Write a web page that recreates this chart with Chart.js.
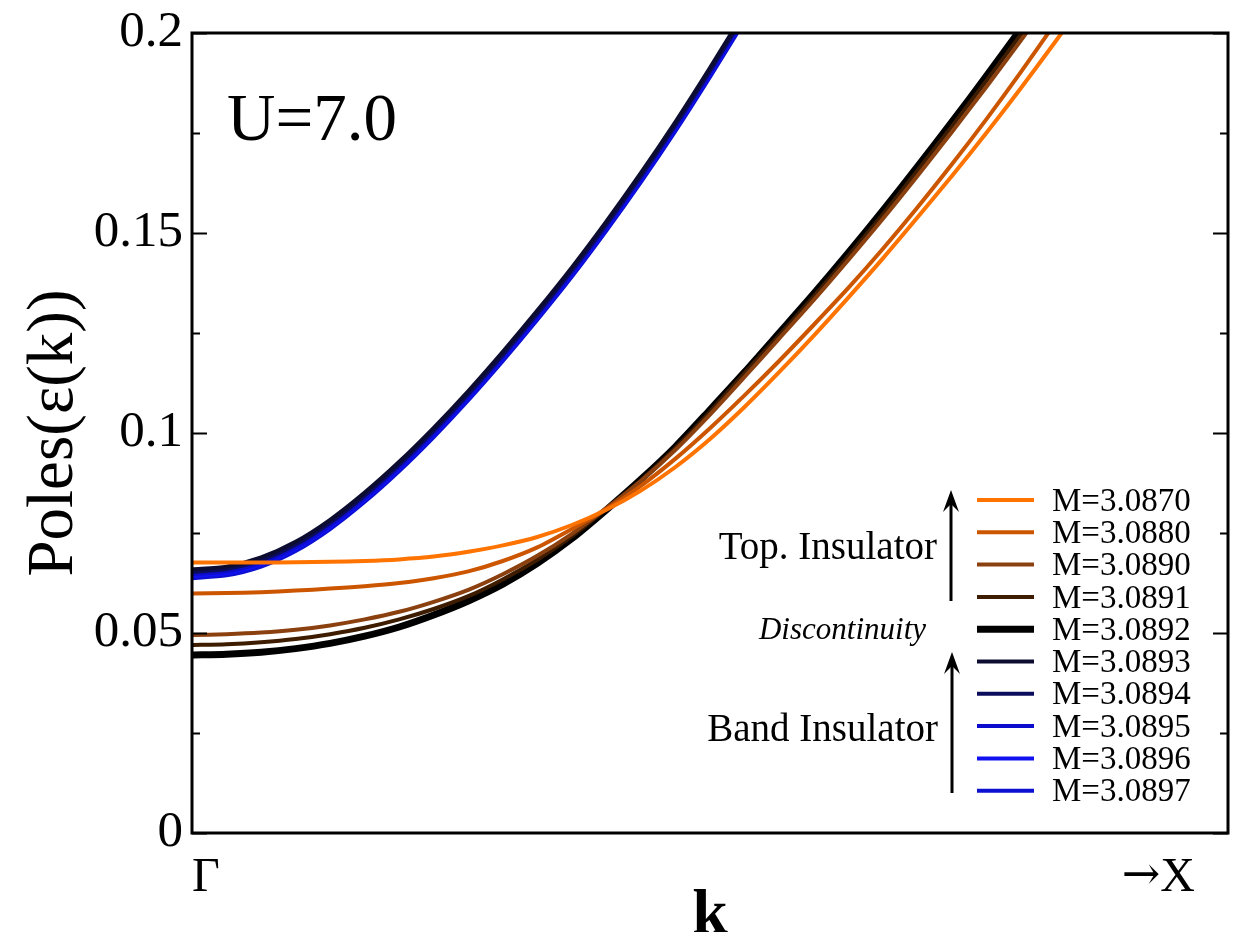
<!DOCTYPE html>
<html lang="en">
<head>
<meta charset="UTF-8">
<title>Poles(e(k)) near Gamma, U=7.0</title>
<script src="https://cdn.jsdelivr.net/npm/chart.js@4.4.1/dist/chart.umd.min.js"></script>
<style>
    html, body { margin: 0; padding: 0; background: #fff; }
    #chart { display: block; }
</style>
</head>
<body>
<canvas id="chart" width="1239" height="932"></canvas>
<script>
// k from Gamma (0) towards X (1)
const kGrid = [0, 0.0333, 0.0667, 0.1, 0.1333, 0.1667, 0.2, 0.2333, 0.2667, 0.3,
               0.3333, 0.3667, 0.4, 0.4333, 0.4667, 0.5, 0.5333, 0.5667, 0.6, 0.6333,
               0.6667, 0.7, 0.7333, 0.7667, 0.8, 0.8333, 0.8667, 0.9];

const massLabels = ['M=3.0870', 'M=3.0880', 'M=3.0890', 'M=3.0891', 'M=3.0892',
                    'M=3.0893', 'M=3.0894', 'M=3.0895', 'M=3.0896', 'M=3.0897'];

// pole energies
const m3_0870 = [0.0676, 0.0676, 0.0676, 0.0677, 0.0678, 0.0680, 0.0684, 0.0691, 0.0703, 0.0719,
                 0.0740, 0.0770, 0.0808, 0.0856, 0.0915, 0.0985, 0.1065, 0.1152, 0.1243, 0.1338,
                 0.1436, 0.1538, 0.1642, 0.1750, 0.1862, 0.1978, 0.2098];
const m3_0880 = [0.0599, 0.0600, 0.0602, 0.0606, 0.0611, 0.0617, 0.0625, 0.0637, 0.0654, 0.0680,
                 0.0714, 0.0760, 0.0810, 0.0868, 0.0936, 0.1012, 0.1094, 0.1180, 0.1270, 0.1362,
                 0.1460, 0.1563, 0.1671, 0.1784, 0.1902, 0.2025];
const m3_0890 = [0.0495, 0.0497, 0.0501, 0.0508, 0.0519, 0.0534, 0.0553, 0.0578, 0.0608, 0.0647,
                 0.0693, 0.0748, 0.0812, 0.0880, 0.0958, 0.1046, 0.1140, 0.1236, 0.1332, 0.1432,
                 0.1535, 0.1642, 0.1752, 0.1865, 0.1981, 0.2100];
const m3_0891 = [0.0470, 0.0472, 0.0477, 0.0485, 0.0497, 0.0513, 0.0534, 0.0560, 0.0592, 0.0634,
                 0.0683, 0.0742, 0.0810, 0.0882, 0.0963, 0.1053, 0.1150, 0.1244, 0.1341, 0.1442,
                 0.1546, 0.1655, 0.1766, 0.1880, 0.1996, 0.2115];
const m3_0892 = [0.0445, 0.0447, 0.0452, 0.0461, 0.0474, 0.0492, 0.0515, 0.0545, 0.0580, 0.0622,
                 0.0674, 0.0736, 0.0808, 0.0884, 0.0966, 0.1058, 0.1152, 0.1250, 0.1348, 0.1450,
                 0.1556, 0.1665, 0.1777, 0.1892, 0.2010];
const m3_0893 = [0.0659, 0.0666, 0.0689, 0.0728, 0.0783, 0.0851, 0.0928, 0.1013, 0.1105, 0.1203,
                 0.1306, 0.1414, 0.1529, 0.1650, 0.1778, 0.1913, 0.2053];
const m3_0894 = [0.0653, 0.0660, 0.0682, 0.0721, 0.0776, 0.0844, 0.0921, 0.1006, 0.1098, 0.1196,
                 0.1299, 0.1407, 0.1522, 0.1643, 0.1771, 0.1906, 0.2046];
const m3_0895 = [0.0647, 0.0654, 0.0676, 0.0715, 0.0770, 0.0838, 0.0915, 0.1000, 0.1092, 0.1190,
                 0.1293, 0.1401, 0.1516, 0.1637, 0.1765, 0.1900, 0.2040];
const m3_0896 = [0.0642, 0.0649, 0.0671, 0.0710, 0.0765, 0.0833, 0.0910, 0.0995, 0.1087, 0.1185,
                 0.1288, 0.1396, 0.1511, 0.1632, 0.1760, 0.1895, 0.2035];
const m3_0897 = [0.0637, 0.0644, 0.0666, 0.0705, 0.0760, 0.0828, 0.0905, 0.0990, 0.1082, 0.1180,
                 0.1283, 0.1391, 0.1506, 0.1627, 0.1755, 0.1890, 0.2030];

const yTickMarks = [0, 0.025, 0.05, 0.075, 0.1, 0.125, 0.15, 0.175, 0.2];
const kEndLabels = ['Γ', '→X'];

const seriesValues = [m3_0870, m3_0880, m3_0890, m3_0891, m3_0892,
                      m3_0893, m3_0894, m3_0895, m3_0896, m3_0897];
const seriesColors = ['#ff7300', '#cc5500', '#8b4010', '#3d1c00', '#000000',
                      '#0c0c30', '#0c0c5c', '#0c0ccc', '#1010f0', '#0c10d0'];
const seriesWidths = [4, 4, 4, 4, 7, 4, 4, 4, 4, 4];

const SERIF = '"Liberation Serif", "Times New Roman", serif';

const datasets = massLabels.map((label, j) => ({
    label: label,
    data: seriesValues[j].map((v, i) => ({ x: kGrid[i], y: v })),
    borderColor: seriesColors[j],
    backgroundColor: seriesColors[j],
    borderWidth: seriesWidths[j],
    pointRadius: 0,
    showLine: true,
    fill: false,
    tension: 0.25,
    clip: 0
}));

function arrowUp(ctx, x, yBottom, yTip) {
    ctx.beginPath();
    ctx.moveTo(x, yBottom);
    ctx.lineTo(x, yTip + 10);
    ctx.stroke();
    ctx.beginPath();
    ctx.moveTo(x, yTip);
    ctx.lineTo(x - 8, yTip + 22);
    ctx.lineTo(x, yTip + 14);
    ctx.lineTo(x + 8, yTip + 22);
    ctx.closePath();
    ctx.fill();
}

// frame, inward ticks, annotations and the legend block
const decorations = {
    id: 'decorations',
    afterDatasetsDraw(chart) {
        const { ctx, chartArea: a, scales: { y } } = chart;
        ctx.save();
        ctx.strokeStyle = '#000';
        ctx.fillStyle = '#000';

        ctx.lineWidth = 2;
        yTickMarks.forEach((v, i) => {
            const py = Math.round(y.getPixelForValue(v)) + 0.5;
            const len = i % 2 ? 8 : 15;
            ctx.beginPath();
            ctx.moveTo(a.left, py); ctx.lineTo(a.left + len, py);
            ctx.moveTo(a.right, py); ctx.lineTo(a.right - len, py);
            ctx.stroke();
        });

        ctx.lineWidth = 3;
        ctx.strokeRect(a.left, a.top, a.right - a.left, a.bottom - a.top);

        // U label
        ctx.font = '67px ' + SERIF;
        ctx.textAlign = 'left';
        ctx.textBaseline = 'alphabetic';
        ctx.fillText('U=7.0', a.left + 35, a.top + 107);

        // legend
        const lx1 = a.right - 251, lx2 = a.right - 194, ly0 = a.top + 467, step = 32.3;
        massLabels.forEach((label, j) => {
            const ly = ly0 + j * step;
            ctx.strokeStyle = seriesColors[j];
            ctx.lineWidth = seriesWidths[j];
            ctx.beginPath();
            ctx.moveTo(lx1, ly); ctx.lineTo(lx2, ly);
            ctx.stroke();
            ctx.font = '33px ' + SERIF;
            ctx.textBaseline = 'middle';
            ctx.fillText(label, a.right - 176, ly + 2);
        });

        ctx.strokeStyle = '#000';
        ctx.lineWidth = 3;
        arrowUp(ctx, a.right - 277, a.top + 568, a.top + 457);
        arrowUp(ctx, a.right - 276, a.top + 760, a.top + 619);

        ctx.textAlign = 'right';
        ctx.font = '39px ' + SERIF;
        ctx.fillText('Top. Insulator', a.right - 291, a.top + 516);
        ctx.fillText('Band Insulator', a.right - 290, a.top + 698);
        ctx.font = 'italic 31px ' + SERIF;
        ctx.fillText('Discontinuity', a.right - 302, a.top + 598);

        // k axis labels
        ctx.textBaseline = 'alphabetic';
        ctx.font = '48px ' + SERIF;
        ctx.textAlign = 'left';
        ctx.fillText(kEndLabels[0], a.left, a.bottom + 58);
        // arrow glyph from DejaVu, letter from the serif face
        const endLabel = kEndLabels[1];
        const tail = endLabel.slice(1);
        const tailW = ctx.measureText(tail).width;
        ctx.textAlign = 'right';
        ctx.fillText(tail, a.right - 33, a.bottom + 58);
        ctx.font = '46px "DejaVu Serif", serif';
        ctx.fillText(endLabel[0], a.right - 33 - tailW, a.bottom + 56);
        ctx.textAlign = 'center';
        ctx.font = 'bold 64px ' + SERIF;
        ctx.fillText('k', 710, a.bottom + 100);

        // y axis title
        ctx.translate(55, (a.top + a.bottom) / 2);
        ctx.rotate(-Math.PI / 2);
        ctx.font = '65px ' + SERIF;
        ctx.textBaseline = 'middle';
        ctx.fillText('Poles(ε(k))', 0, 0);
        ctx.restore();
    }
};

new Chart(document.getElementById('chart'), {
    type: 'scatter',
    data: { datasets: datasets },
    options: {
        responsive: false,
        animation: false,
        layout: { padding: { top: 33, right: 11, left: 0, bottom: 0 } },
        plugins: { legend: { display: false }, tooltip: { enabled: false } },
        scales: {
            x: {
                type: 'linear', min: 0, max: 1,
                ticks: { display: false },
                grid: { display: false, drawTicks: false },
                border: { display: false },
                afterFit(s) { s.height = 99; s.paddingLeft = 0; s.paddingRight = 0; }
            },
            y: {
                min: 0, max: 0.2,
                ticks: {
                    stepSize: 0.05,
                    padding: 9,
                    color: '#000',
                    font: { family: SERIF, size: 51, lineHeight: 0.9 },
                    callback: v => String(Math.round(v * 1000) / 1000)
                },
                grid: { display: false, drawTicks: false },
                border: { display: false },
                afterFit(s) { s.width = 192; s.paddingTop = 0; s.paddingBottom = 0; }
            }
        }
    },
    plugins: [decorations]
});
</script>
</body>
</html>
